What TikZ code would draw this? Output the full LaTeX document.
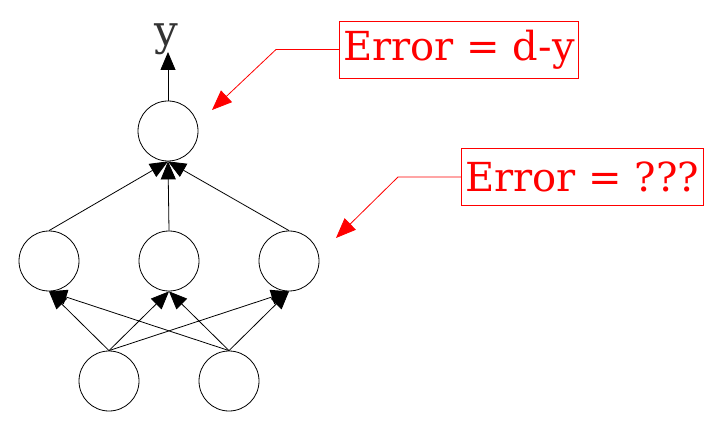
\documentclass[tikz,border=0pt]{standalone}
\usepackage{fontspec}
\setmainfont{DejaVu Serif}
\usetikzlibrary{arrows.meta}
\begin{document}
\begin{tikzpicture}[x=1pt,y=-1pt,
  neuron/.style={circle,draw,line width=0.8pt,minimum size=60pt,inner sep=0pt},
  conn/.style={line width=0.8pt,-{Triangle[length=18pt,width=15pt]}},
  errbox/.style={draw=red,line width=0.8pt,text=red,font=\fontsize{40}{44}\selectfont,inner xsep=4pt,inner ysep=2pt,minimum height=57pt},
  errarrow/.style={draw=red,line width=0.8pt,-{Triangle[length=20pt,width=16pt]}}]
\useasboundingbox (0,0) rectangle (719,435);
\node[neuron] (o) at (168,131) {};
\node[neuron] (h1) at (49,261) {};
\node[neuron] (h2) at (169,261) {};
\node[neuron] (h3) at (289,261) {};
\node[neuron] (i1) at (109,381) {};
\node[neuron] (i2) at (229,381) {};
\node[font=\fontsize{42}{44}\selectfont,text=black!80,anchor=base] (y) at (166,46) {y};
\coordinate (ytip) at (168,52);
\draw[conn] (o.north) -- (ytip);
\foreach \h in {h1,h2,h3}{\draw[conn] (\h.north) -- (o.south);}
\foreach \i in {i1,i2}{\foreach \h in {h1,h2,h3}{\draw[conn] (\i.north) -- (\h.south);}}
\node[errbox,anchor=west] (e1) at (339,49.5) {Error = d-y};
\node[errbox,anchor=west] (e2) at (461,177) {Error = ???};
\coordinate (k1) at (276,49.5);
\coordinate (t1) at (212,110);
\coordinate (k2) at (398,177);
\coordinate (t2) at (336,238);
\draw[errarrow] (e1.west) -- (k1) -- (t1);
\draw[errarrow] (e2.west) -- (k2) -- (t2);
\end{tikzpicture}
\end{document}
